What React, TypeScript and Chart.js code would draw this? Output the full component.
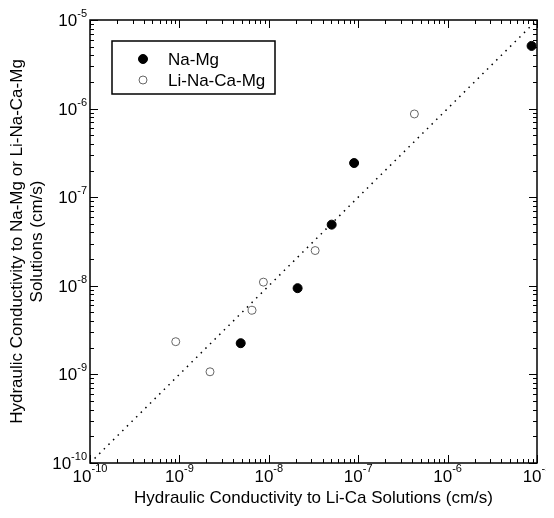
import React, { useEffect, useRef } from 'react';
import { Chart, registerables } from 'chart.js';

Chart.register(...registerables);

// ---- data ----
const naMgX = [4.85e-9, 2.1e-8, 5.05e-8, 9.0e-8, 8.7e-6];
const naMgY = [2.25e-9, 9.4e-9, 4.9e-8, 2.43e-7, 5.1e-6];
const liNaCaMgX = [9.1e-10, 2.2e-9, 6.5e-9, 8.7e-9, 3.3e-8, 4.25e-7];
const liNaCaMgY = [2.34e-9, 1.07e-9, 5.3e-9, 1.1e-8, 2.5e-8, 8.7e-7];
const identityX = [1e-10, 1e-5];
const identityY = [1e-10, 1e-5];
const decadeExponents = [-10, -9, -8, -7, -6, -5];
const seriesLabels = ['Na-Mg', 'Li-Na-Ca-Mg'];
const xTitle = 'Hydraulic Conductivity to Li-Ca Solutions (cm/s)';
const yTitle = ['Hydraulic Conductivity to Na-Mg or Li-Na-Ca-Mg', 'Solutions (cm/s)'];
const axisMin = 1e-10;
const axisMax = 1e-5;

const FONT = '"Liberation Sans", Arial, Helvetica, sans-serif';

const toPoints = (xs: number[], ys: number[]) => xs.map((x, i) => ({ x, y: ys[i] }));

const framePlugin = {
  id: 'frameTicks',
  afterDraw(chart: any) {
    const { ctx, chartArea: a, scales } = chart;
    const xs = scales.x;
    const ys = scales.y;
    ctx.save();
    ctx.strokeStyle = '#000';
    ctx.lineWidth = 1.5;
    ctx.strokeRect(a.left, a.top, a.right - a.left, a.bottom - a.top);
    ctx.lineWidth = 1;
    for (const k of decadeExponents) {
      for (let m = 1; m <= 9; m++) {
        if (k === decadeExponents[decadeExponents.length - 1] && m > 1) break;
        const v = m * Math.pow(10, k);
        const len = m === 1 ? 8 : 4;
        const px = Math.round(xs.getPixelForValue(v)) + 0.5;
        const py = Math.round(ys.getPixelForValue(v)) + 0.5;
        ctx.beginPath();
        ctx.moveTo(px, a.bottom);
        ctx.lineTo(px, a.bottom - len);
        ctx.moveTo(px, a.top);
        ctx.lineTo(px, a.top + len);
        ctx.moveTo(a.left, py);
        ctx.lineTo(a.left + len, py);
        ctx.moveTo(a.right, py);
        ctx.lineTo(a.right - len, py);
        ctx.stroke();
      }
    }
    // tick labels: 10 with superscript exponent
    ctx.fillStyle = '#000';
    ctx.textBaseline = 'alphabetic';
    ctx.textAlign = 'left';
    const big = `17px ${FONT}`;
    const small = `11px ${FONT}`;
    for (const k of decadeExponents) {
      const v = Math.pow(10, k);
      const exp = String(k);
      ctx.font = big;
      const wb = ctx.measureText('10').width;
      ctx.font = small;
      const ws = ctx.measureText(exp).width;
      const total = wb + ws;
      // x axis
      const px = xs.getPixelForValue(v);
      const x0 = px - total / 2;
      ctx.font = big;
      ctx.fillText('10', x0, a.bottom + 19);
      ctx.font = small;
      ctx.fillText(exp, x0 + wb, a.bottom + 9);
      // y axis
      const py = ys.getPixelForValue(v);
      const y0 = a.left - 3 - total;
      ctx.font = big;
      ctx.fillText('10', y0, py + 6);
      ctx.font = small;
      ctx.fillText(exp, y0 + wb, py - 3);
    }
    // legend
    const lx = a.left + 22;
    const ly = a.top + 21;
    const lw = 163;
    const lh = 53;
    ctx.fillStyle = '#fff';
    ctx.fillRect(lx, ly, lw, lh);
    ctx.lineWidth = 1.5;
    ctx.strokeStyle = '#000';
    ctx.strokeRect(lx, ly, lw, lh);
    const dsets = chart.data.datasets.filter((d: any) => seriesLabels.includes(d.label));
    dsets.forEach((d: any, i: number) => {
      const cy = ly + 18 + i * 21;
      const cx = lx + 31;
      ctx.beginPath();
      ctx.arc(cx, cy, d.pointRadius, 0, Math.PI * 2);
      ctx.fillStyle = d.backgroundColor;
      ctx.fill();
      ctx.lineWidth = d.borderWidth;
      ctx.strokeStyle = d.borderColor;
      ctx.stroke();
      ctx.fillStyle = '#000';
      ctx.font = big;
      ctx.textBaseline = 'middle';
      ctx.fillText(d.label, lx + 56, cy + 1);
    });
    ctx.restore();
  },
};

export default function App() {
  const ref = useRef<HTMLCanvasElement | null>(null);
  useEffect(() => {
    if (!ref.current) return;
    const chart = new Chart(ref.current, {
      type: 'scatter',
      data: {
        datasets: [
          {
            label: '1:1',
            data: toPoints(identityX, identityY),
            showLine: true,
            borderColor: '#000',
            borderWidth: 1.5,
            borderDash: [1.5, 5],
            pointRadius: 0,
          },
          {
            label: seriesLabels[0],
            data: toPoints(naMgX, naMgY),
            pointRadius: 4.5,
            backgroundColor: '#000',
            borderColor: '#000',
            borderWidth: 1,
          },
          {
            label: seriesLabels[1],
            data: toPoints(liNaCaMgX, liNaCaMgY),
            pointRadius: 4,
            backgroundColor: '#fff',
            borderColor: '#666',
            borderWidth: 1,
          },
        ],
      },
      options: {
        responsive: false,
        animation: false,
        layout: { padding: { top: 20, right: 17, left: 0, bottom: 0 } },
        plugins: { legend: { display: false }, tooltip: { enabled: false } },
        scales: {
          x: {
            type: 'logarithmic',
            min: axisMin,
            max: axisMax,
            grid: { display: false },
            border: { display: false },
            ticks: { display: false },
            title: {
              display: true,
              text: xTitle,
              color: '#000',
              font: { family: FONT, size: 17, lineHeight: 1.15 },
              padding: { top: 0, bottom: 10 },
            },
            afterFit: (s: any) => {
              s.height = 55;
            },
          },
          y: {
            type: 'logarithmic',
            min: axisMin,
            max: axisMax,
            grid: { display: false },
            border: { display: false },
            ticks: { display: false },
            title: {
              display: true,
              text: yTitle,
              color: '#000',
              font: { family: FONT, size: 17, lineHeight: 1.15 },
              padding: { top: 8, bottom: 0 },
            },
            afterFit: (s: any) => {
              s.width = 90;
            },
          },
        },
      },
      plugins: [framePlugin],
    } as any);
    return () => chart.destroy();
  }, []);
  return (
    <canvas
      ref={ref}
      width={554}
      height={518}
      style={{ display: 'block', margin: '-8px' }}
    />
  );
}
